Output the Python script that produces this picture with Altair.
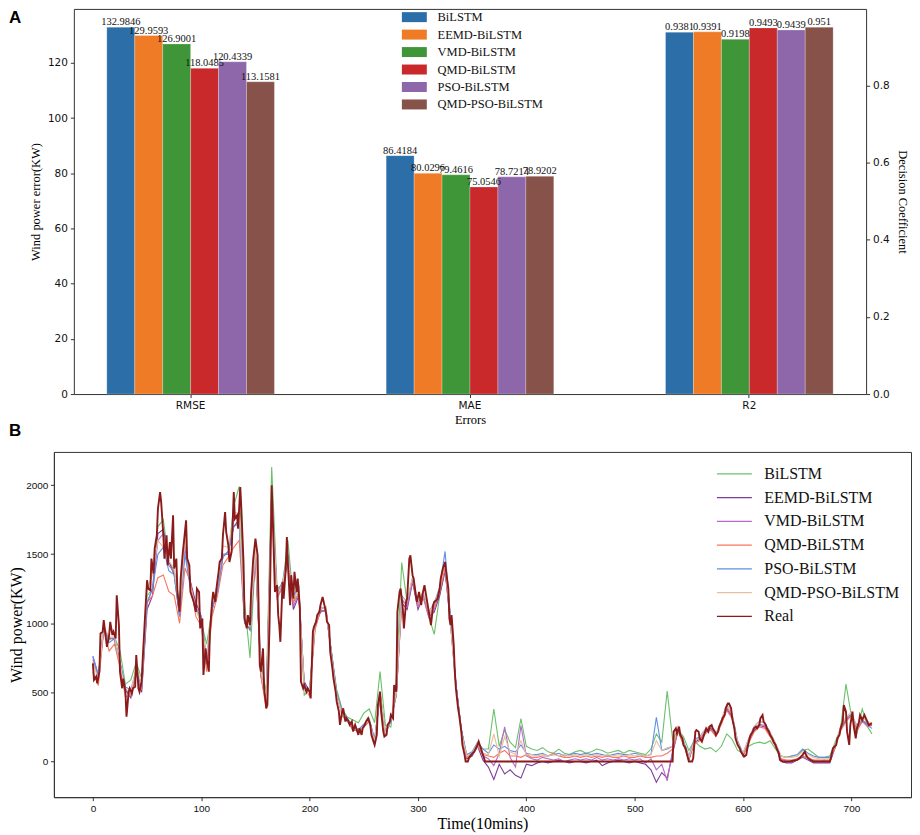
import altair as alt
import pandas as pd

# ---------------- Panel A data ----------------
MODELS = ["BiLSTM", "EEMD-BiLSTM", "VMD-BiLSTM", "QMD-BiLSTM", "PSO-BiLSTM", "QMD-PSO-BiLSTM"]
METRICS = ["RMSE", "MAE", "R2"]
RMSE_VALUES = [132.9846, 129.9593, 126.9001, 118.0485, 120.4339, 113.1581]
MAE_VALUES = [86.4184, 80.0296, 79.4616, 75.0546, 78.7214, 78.9202]
R2_VALUES = [0.9381, 0.9391, 0.9198, 0.9493, 0.9439, 0.951]
BAR_COLORS = ["#2b6ea8", "#f07b27", "#3e9638", "#c9292a", "#8e67ab", "#875249"]
LEFT_TICKS = [0, 20, 40, 60, 80, 100, 120]
RIGHT_TICKS = [0.0, 0.2, 0.4, 0.6, 0.8]

# ---------------- Panel B data ----------------
SERIES = MODELS + ["Real"]
LINE_COLORS = ["#6cc06c", "#7d3c98", "#b36cc9", "#f7765f", "#5f8fe6", "#e7bf9c", "#8b1a1a"]
X_TICKS = [0, 100, 200, 300, 400, 500, 600, 700]
Y_TICKS = [0, 500, 1000, 1500, 2000]
T_GRID = list(range(0, 716, 5)) + [719]

BILSTM_PRED = [
    720, 620, 960, 880, 900, 800, 560, 590, 720, 600,
    1200, 1250, 1700, 1750, 1450, 1380, 1150, 1600, 1300, 1100,
    1010, 850, 1100, 1250, 1500, 1500, 1850, 1990, 1150, 750,
    1500, 720, 500, 2130, 1250, 1280, 1600, 1150, 1280, 480,
    520, 1000, 1100, 1080, 800, 520, 380, 320, 300, 280,
    350, 380, 280, 650, 260, 250, 600, 1440, 1150, 1300,
    1150, 1200, 1050, 920, 1200, 1380, 1050, 560, 230, 40,
    60, 130, 90, 90, 380, 110, 230, 140, 100, 310,
    110, 90, 80, 100, 70, 60, 90, 60, 50, 70,
    80, 60, 70, 90, 80, 60, 70, 80, 60, 80,
    70, 60, 50, 90, 200, 140, 510, 160, 230, 180,
    80, 150, 110, 90, 100, 70, 110, 200, 160, 80,
    60, 110, 130, 140, 130, 150, 90, 40, 30, 40,
    40, 80, 90, 60, 30, 30, 40, 140, 240, 560,
    330, 200, 380, 250, 200,
]
EEMD_PRED = [
    760, 620, 950, 900, 880, 720, 520, 460, 640, 500,
    1100, 1200, 1650, 1680, 1450, 1350, 1050, 1550, 1300, 1150,
    1050, 700, 1100, 1250, 1480, 1520, 1700, 1750, 1020, 950,
    1480, 620, 420, 1900, 1200, 1280, 1450, 1100, 1200, 580,
    500, 980, 1080, 1100, 800, 480, 350, 290, 230, 220,
    250, 290, 150, 470, 200, 300, 480, 1150, 1100, 1300,
    1100, 1200, 1050, 1080, 1200, 1380, 1000, 560, 230, 20,
    40, 110, 10, -40, -130, -20, -90, -60, -100, -120,
    -20, -30, -10, 0, -10, 0, 10, 0, -10, 0,
    0, -10, 0, 10, -30, -10, 0, 10, 0, -10,
    0, -10, -20, -60, -150, -80, -120, 60, 220, 130,
    10, 140, 160, 210, 240, 190, 280, 380, 320, 130,
    40, 140, 220, 260, 250, 190, 110, 0, -10, -10,
    10, 30, 10, -10, -10, -10, -10, 100, 230, 300,
    330, 230, 290, 260, 260,
]
VMD_PRED = [
    740, 610, 970, 890, 890, 720, 530, 480, 650, 520,
    1150, 1250, 1600, 1650, 1420, 1370, 1080, 1560, 1280, 1120,
    1030, 720, 1120, 1240, 1500, 1500, 1750, 1780, 1000, 960,
    1500, 640, 430, 1950, 1180, 1260, 1480, 1120, 1220, 560,
    510, 970, 1090, 1090, 790, 490, 350, 300, 250, 230,
    260, 300, 160, 480, 210, 290, 500, 1180, 1120, 1310,
    1120, 1180, 1040, 1100, 1220, 1400, 1000, 560, 230, 30,
    50, 120, 40, 20, -30, 60, 250, 30, -40, 260,
    40, 20, 10, 30, 20, 10, 20, 0, 10, 20,
    10, 20, 10, 30, 10, 20, 10, 20, 10, 20,
    10, 20, -10, 20, -60, -20, -140, 80, 230, 140,
    20, 150, 170, 220, 250, 190, 290, 390, 330, 130,
    50, 150, 230, 270, 260, 200, 120, 20, 0, 0,
    20, 40, 20, 10, 0, 10, 0, 110, 240, 310,
    340, 240, 300, 270, 270,
]
QMD_PRED = [
    650, 550, 950, 800, 850, 680, 470, 480, 650, 520,
    1150, 1200, 1330, 1350, 1230, 1200, 1000, 1400, 1300, 1050,
    980, 650, 1050, 1200, 1420, 1480, 1550, 1600, 1000, 960,
    1480, 620, 380, 1880, 1200, 1250, 1450, 1150, 1220, 550,
    470, 950, 1100, 1120, 780, 480, 330, 290, 230, 220,
    250, 290, 140, 500, 200, 300, 480, 1150, 1150, 1320,
    1130, 1190, 1060, 1120, 1230, 1400, 1050, 560, 220, 30,
    50, 110, 50, 40, 30, 60, 80, 40, 40, 30,
    50, 30, 30, 40, 40, 60, 40, 30, 30, 40,
    30, 40, 30, 40, 30, 40, 30, 30, 40, 30,
    30, 40, 30, 30, 40, 40, 60, 90, 220, 120,
    20, 130, 150, 200, 230, 180, 270, 370, 310, 120,
    40, 130, 210, 250, 240, 180, 110, 20, 10, 10,
    20, 40, 30, 10, 10, 10, 10, 100, 220, 290,
    330, 220, 290, 250, 260,
]
PSO_PRED = [
    760, 630, 960, 860, 890, 710, 540, 520, 660, 540,
    1150, 1250, 1500, 1550, 1380, 1350, 1050, 1500, 1250, 1100,
    1050, 740, 1100, 1230, 1480, 1520, 1700, 1720, 1000, 960,
    1520, 660, 410, 1950, 1220, 1300, 1500, 1200, 1260, 560,
    520, 990, 1120, 1100, 800, 500, 360, 310, 260, 230,
    270, 310, 160, 490, 210, 290, 500, 1200, 1150, 1330,
    1150, 1210, 1080, 1150, 1260, 1520, 1050, 560, 230, 50,
    70, 140, 90, 60, 120, 90, 110, 80, 70, 120,
    60, 50, 50, 60, 40, 50, 60, 40, 50, 60,
    50, 60, 50, 60, 50, 40, 50, 60, 50, 50,
    60, 50, 40, 50, 320, 80, 90, 110, 250, 150,
    40, 160, 180, 230, 260, 200, 300, 410, 340, 150,
    60, 160, 250, 290, 280, 210, 130, 40, 30, 40,
    50, 90, 60, 40, 30, 30, 30, 120, 240, 320,
    340, 260, 300, 260, 240,
]
QMD_PSO_PRED = [
    720, 590, 980, 900, 900, 700, 520, 500, 690, 560,
    1250, 1350, 1600, 1550, 1450, 1400, 1080, 1620, 1270, 1100,
    1000, 760, 1140, 1280, 1560, 1550, 1800, 1800, 1030, 980,
    1540, 660, 400, 1960, 1200, 1290, 1480, 1180, 1240, 550,
    500, 990, 1110, 1110, 780, 480, 340, 300, 250, 220,
    260, 300, 140, 510, 200, 310, 500, 1190, 1160, 1340,
    1160, 1230, 1080, 1140, 1250, 1440, 1000, 540, 210, 40,
    60, 130, 60, 50, 200, 40, 180, 70, 50, 150,
    50, 50, 40, 50, 40, 50, 40, 50, 40, 50,
    40, 50, 40, 50, 40, 50, 40, 50, 40, 50,
    40, 50, 40, 50, 150, 80, 100, 110, 250, 140,
    30, 150, 170, 230, 260, 200, 300, 410, 340, 140,
    60, 160, 250, 290, 280, 210, 130, 40, 30, 30,
    40, 70, 50, 30, 20, 20, 20, 120, 250, 320,
    360, 250, 320, 290, 280,
]

REAL_T = [
    0, 1, 3, 4, 6, 7, 9, 10, 12, 13, 15, 16, 18, 19, 21, 22, 24, 25, 27, 28,
    30, 31, 33, 34, 36, 37, 39, 40, 42, 43, 45, 46, 48, 50, 51, 53, 54, 56, 57, 59,
    60, 62, 63, 65, 66, 68, 69, 71, 72, 74, 75, 77, 78, 80, 81, 83, 84, 86, 87, 89,
    90, 92, 93, 95, 96, 98, 99, 101, 102, 104, 105, 107, 108, 110, 111, 113, 114, 116, 117, 119,
    120, 122, 123, 125, 126, 128, 130, 131, 133, 134, 136, 137, 139, 140, 142, 143, 145, 146, 148, 150,
    152, 154, 155, 157, 158, 160, 161, 163, 165, 166, 168, 170, 171, 172, 173, 175, 176, 178, 179, 180,
    182, 183, 185, 186, 188, 189, 191, 192, 194, 195, 197, 198, 200, 201, 203, 204, 206, 207, 209, 210,
    212, 213, 215, 216, 218, 219, 221, 222, 224, 225, 227, 228, 230, 231, 233, 234, 236, 237, 239, 240,
    242, 243, 245, 246, 248, 249, 251, 252, 254, 256, 257, 259, 260, 262, 263, 265, 266, 268, 269, 271,
    272, 274, 275, 277, 278, 280, 281, 283, 284, 286, 287, 289, 290, 292, 293, 295, 296, 298, 299, 301,
    303, 304, 306, 307, 309, 311, 312, 314, 315, 317, 318, 320, 321, 323, 325, 326, 328, 329, 330, 331,
    333, 334, 335, 337, 338, 340, 341, 343, 344, 346, 347, 349, 352, 355, 356, 358, 361, 362, 535, 536,
    538, 539, 541, 542, 544, 545, 547, 548, 550, 553, 554, 556, 557, 559, 560, 562, 563, 565, 566, 568,
    569, 571, 572, 574, 575, 577, 578, 580, 581, 583, 584, 586, 587, 589, 590, 592, 593, 595, 597, 598,
    600, 601, 603, 604, 606, 607, 609, 610, 612, 613, 615, 616, 618, 619, 621, 622, 624, 625, 627, 628,
    630, 631, 633, 634, 637, 643, 650, 652, 655, 657, 658, 660, 662, 665, 680, 681, 683, 686, 687, 689,
    690, 692, 693, 695, 696, 698, 699, 701, 702, 704, 705, 707, 708, 710, 712, 716, 719,
]
REAL_V = [
    710, 590, 614, 565, 650, 927, 939, 1023, 890, 830, 915, 1010, 915, 939, 890, 1203, 987, 650, 530, 600,
    505, 325, 505, 530, 493, 530, 541, 770, 530, 505, 578, 746, 1035, 1312, 1251, 1240, 1468, 1360, 1540, 1637,
    1829, 1949, 1877, 1637, 1468, 1637, 1420, 1588, 1468, 1781, 1396, 1468, 1227, 1083, 1324, 1516, 1588, 1745, 1468, 1420,
    1227, 1179, 1155, 1083, 1251, 1227, 963, 1035, 626, 818, 746, 650, 939, 1155, 1227, 1155, 1251, 1372, 1444, 1468,
    1637, 1805, 1661, 1564, 1444, 1516, 1949, 1757, 1781, 1685, 1986, 1829, 1444, 1035, 963, 1059, 987, 1227, 1468, 1612,
    1492, 698, 650, 818, 530, 385, 409, 987, 1998, 1757, 1227, 1276, 1059, 987, 866, 1300, 1179, 1396, 1625, 1420,
    1131, 1348, 1179, 1372, 1227, 1324, 1107, 578, 530, 553, 505, 530, 505, 457, 939, 975, 1011, 1059, 1083, 1131,
    1191, 1155, 1083, 1011, 987, 794, 674, 602, 505, 433, 361, 265, 361, 385, 289, 313, 289, 265, 289, 217,
    265, 241, 193, 241, 193, 241, 265, 289, 313, 265, 193, 144, 120, 193, 409, 505, 361, 217, 180, 193,
    265, 289, 337, 313, 553, 505, 1083, 1227, 1251, 1107, 963, 1155, 1179, 1468, 1492, 1348, 1324, 1203, 1155, 1227,
    1131, 1203, 1276, 1227, 1131, 1035, 987, 1131, 1155, 1167, 1179, 1251, 1324, 1396, 1444, 1372, 1251, 1035, 987, 1059,
    842, 650, 529, 385, 337, 217, 120, 48, 0, 0, 24, 48, 72, 120, 144, 96, 24, 0, 0, 216,
    240, 204, 252, 192, 168, 120, 96, 60, 0, 0, 24, 216, 228, 216, 168, 144, 168, 216, 240, 216,
    252, 264, 240, 216, 192, 216, 252, 288, 312, 336, 385, 421, 421, 385, 312, 240, 168, 120, 96, 72,
    48, 36, 48, 96, 168, 192, 216, 240, 252, 240, 264, 312, 336, 288, 264, 240, 216, 192, 168, 144,
    120, 96, 60, 12, 0, 0, 12, 24, 48, 72, 48, 24, 12, 0, 0, 24, 96, 120, 168, 192,
    240, 288, 409, 361, 216, 120, 264, 361, 264, 168, 240, 288, 336, 300, 337, 265, 277,
]

SERIF = "Liberation Serif"
SANS = "DejaVu Sans"
AXC = "#333"

# ---------------- Panel A ----------------
bar_rows = []
for metric, vals in zip(METRICS, [RMSE_VALUES, MAE_VALUES, R2_VALUES]):
    for model, v in zip(MODELS, vals):
        bar_rows.append({"metric": metric, "model": model, "value": v, "label": str(v)})
bars_df = pd.DataFrame(bar_rows)
left_df = bars_df[bars_df.metric != "R2"]
right_df = bars_df[bars_df.metric == "R2"]

A_W, A_H = 814, 386
x_scale_a = alt.Scale(domain=METRICS, range=[20, A_W], paddingInner=0.4, paddingOuter=0.118)
x_bottom = alt.X(
    "metric:N", sort=METRICS, scale=x_scale_a,
    axis=alt.Axis(title="Errors", orient="bottom", labelAngle=0, labelFont=SANS, labelFontSize=10.5,
                  titleFont=SERIF, titleFontSize=12.5, titleFontWeight="normal", titleColor="#000",
                  tickSize=3.5, labelPadding=3, titlePadding=3, labelColor="#111",
                  tickColor=AXC, domainColor=AXC),
)
x_top = alt.X(
    "metric:N", sort=METRICS, scale=x_scale_a,
    axis=alt.Axis(title=None, orient="top", labels=False, ticks=False, domainColor=AXC),
)
xo_a = alt.XOffset("model:N", sort=MODELS, scale=alt.Scale(domain=MODELS))
color_a = alt.Color(
    "model:N", sort=MODELS,
    scale=alt.Scale(domain=MODELS, range=BAR_COLORS),
    legend=alt.Legend(title=None, orient="none", legendX=355, legendY=2, padding=0,
                      symbolType="M-2.5,-1L2.5,-1L2.5,1L-2.5,1Z", symbolSize=100,
                      symbolStrokeWidth=0, symbolOpacity=1, labelFont=SERIF, labelFontSize=12.5,
                      labelFontWeight="normal", labelOffset=17, rowPadding=4.5, labelColor="#111"),
)
y_left = alt.Y(
    "value:Q", scale=alt.Scale(domain=[0, 139.6], nice=False, zero=True),
    axis=alt.Axis(title="Wind power error(KW)", orient="left", offset=-20, values=LEFT_TICKS, grid=False,
                  labelFont=SANS, labelFontSize=10.5, titleFont=SERIF, titleFontSize=12.5,
                  titleFontWeight="normal", titleColor="#000", tickSize=3.5, labelPadding=3,
                  titlePadding=5, labelColor="#111", tickColor=AXC, domainColor=AXC),
)
y_right = alt.Y(
    "value:Q", scale=alt.Scale(domain=[0, 0.9986], nice=False, zero=True),
    axis=alt.Axis(title="Decision Coefficient", orient="right", values=RIGHT_TICKS, format=".1f",
                  grid=False, labelFont=SANS, labelFontSize=10.5, titleFont=SERIF,
                  titleFontSize=12.5, titleFontWeight="normal", titleColor="#000", tickSize=3.5,
                  labelPadding=3, titlePadding=6, labelColor="#111", tickColor=AXC, domainColor=AXC),
)

bar_mark = dict(stroke="#ffffff", strokeWidth=0.5, strokeOpacity=0.5)
left_bars = alt.Chart(left_df).mark_bar(**bar_mark).encode(x=x_bottom, xOffset=xo_a, y=y_left, color=color_a)
left_text = alt.Chart(left_df).mark_text(baseline="bottom", font=SERIF, fontSize=10.5, color="#111").encode(
    x=x_bottom, xOffset=xo_a, y=y_left, text="label:N")
right_bars = alt.Chart(right_df).mark_bar(**bar_mark).encode(x=x_top, xOffset=xo_a, y=y_right, color=color_a)
right_text = alt.Chart(right_df).mark_text(baseline="bottom", font=SERIF, fontSize=10.5, color="#111").encode(
    x=x_top, xOffset=xo_a, y=y_right, text="label:N")

panel_a = alt.layer(
    alt.layer(left_bars, left_text),
    alt.layer(right_bars, right_text),
).resolve_scale(y="independent").resolve_axis(x="independent", y="independent").properties(
    width=A_W, height=A_H,
    view=alt.ViewBackground(strokeOpacity=0),
    title=alt.TitleParams("A", anchor="start", frame="group", dx=-45, dy=18, offset=0,
                          fontSize=17, fontWeight="bold", font="Liberation Sans", color="#000"),
)

# ---------------- Panel B ----------------
pred_lists = [BILSTM_PRED, EEMD_PRED, VMD_PRED, QMD_PRED, PSO_PRED, QMD_PSO_PRED]
line_rows = []
for name, vals in zip(MODELS, pred_lists):
    for t, v in zip(T_GRID, vals):
        line_rows.append({"t": t, "power": v, "series": name})
pred_df = pd.DataFrame(line_rows)
real_df = pd.DataFrame({"t": REAL_T, "power": REAL_V, "series": "Real"})

x_b = alt.X("t:Q", scale=alt.Scale(domain=[-36, 755], nice=False, zero=False),
            axis=alt.Axis(title="Time(10mins)", values=X_TICKS, format="d", grid=False,
                          labelFont="Liberation Sans", labelFontSize=10, titleFont=SERIF, titleFontSize=16,
                          titleFontWeight="normal", tickSize=3.5, labelPadding=3, titlePadding=2,
                          labelColor="#111", titleColor="#000", tickColor=AXC, domainColor=AXC))
y_b = alt.Y("power:Q", scale=alt.Scale(domain=[-258, 2240], nice=False, zero=False),
            axis=alt.Axis(title="Wind power(KW)", values=Y_TICKS, format="d", grid=False,
                          labelFont="Liberation Sans", labelFontSize=10, titleFont=SERIF, titleFontSize=16,
                          titleFontWeight="normal", tickSize=3.5, labelPadding=2.5, titlePadding=1,
                          labelColor="#111", titleColor="#000", tickColor=AXC, domainColor=AXC))
color_b = alt.Color(
    "series:N", sort=SERIES,
    scale=alt.Scale(domain=SERIES, range=LINE_COLORS),
    legend=alt.Legend(title=None, orient="none", legendX=674, legendY=14, padding=0,
                      symbolType="M-3.5,0L3.5,0", symbolSize=100, symbolStrokeWidth=1.4,
                      labelFont=SERIF, labelFontSize=16, labelFontWeight="normal",
                      labelOffset=22, rowPadding=7.8, labelColor="#111"),
)

pred_lines = alt.Chart(pred_df).mark_line(strokeWidth=1.1).encode(
    x=x_b, y=y_b, color=color_b, detail="series:N", order="t:Q")
real_line = alt.Chart(real_df).mark_line(strokeWidth=1.9).encode(
    x=x_b, y=y_b, color=color_b, order="t:Q")

panel_b = alt.layer(pred_lines, real_line).properties(
    width=859, height=346,
    view=alt.ViewBackground(stroke=AXC, strokeWidth=1),
    title=alt.TitleParams("B", anchor="start", frame="group", dx=-45, offset=12,
                          fontSize=17, fontWeight="bold", font="Liberation Sans", color="#000"),
)

chart = alt.vconcat(panel_a, panel_b, spacing=58, bounds="flush").resolve_scale(
    color="independent"
).properties(
    padding={"left": 0, "top": 0, "right": 0, "bottom": 0}
).configure_view(stroke=AXC, strokeWidth=1).configure(background="white")

chart.save("out.html", embed_options={"renderer": "svg", "actions": False})
